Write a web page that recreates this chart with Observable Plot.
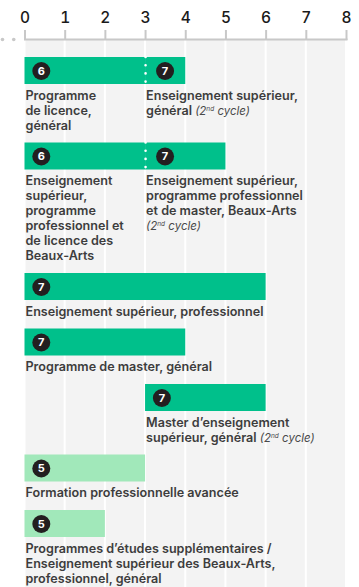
<!DOCTYPE html>
<html>
<head>
<meta charset="utf-8">
<script src="https://cdn.jsdelivr.net/npm/d3@7"></script>
<script src="https://cdn.jsdelivr.net/npm/@observablehq/plot@0.6"></script>
<style>
  html, body { margin: 0; padding: 0; background: #fff; }
  #chart svg { display: block; font-family: Inter, "Noto Sans", sans-serif; }
</style>
</head>
<body>
<div id="chart"></div>
<script>
// ---- data ----
const xTicks = [0, 1, 2, 3, 4, 5, 6, 7, 8];
const leaderDots = [-0.56, -0.28];

const segRow   = [0, 0, 1, 1, 2, 3, 4, 5, 6];
const segStart = [0, 3, 0, 3, 0, 0, 3, 0, 0];
const segEnd   = [3, 4, 3, 5, 6, 4, 6, 3, 2];
const segLevel = [6, 7, 6, 7, 7, 7, 7, 5, 5];
const segLabel = [
  "Programme\nde licence,\ngénéral",
  "Enseignement supérieur,\ngénéral (2nd cycle)",
  "Enseignement\nsupérieur,\nprogramme\nprofessionnel et\nde licence des\nBeaux-Arts",
  "Enseignement supérieur,\nprogramme professionnel\net de master, Beaux-Arts\n(2nd cycle)",
  "Enseignement supérieur, professionnel",
  "Programme de master, général",
  "Master d’enseignement\nsupérieur, général (2nd cycle)",
  "Formation professionnelle avancée",
  "Programmes d’études supplémentaires /\nEnseignement supérieur des Beaux-Arts,\nprofessionnel, général"
];
const levelColors = ["#a1e8ba", "#00c08b", "#00c08b"];
const levels = [5, 6, 7];

// ---- layout (in line units) ----
const W = 359, H = 587, MT = 39;
const UNIT = 15;              // px per line unit
const TOP0 = 1.2, BAR = 1.8, GAP = 0.9, PAD = 0.3;
const FS = 12.6;

const segs = segRow.map((r, i) => ({
  row: r, start: segStart[i], end: segEnd[i], level: segLevel[i], label: segLabel[i],
  lines: segLabel[i].split("\n").length
}));
const nRows = d3.max(segRow) + 1;
const rowLines = d3.range(nRows).map(r => d3.max(segs.filter(s => s.row === r), s => s.lines));
const tops = [];
{ let t = TOP0; for (let r = 0; r < nRows; r++) { tops.push(t); t += BAR + rowLines[r] + GAP; } }
segs.forEach(s => {
  s.y1 = tops[s.row]; s.y2 = tops[s.row] + BAR; s.ym = tops[s.row] + BAR / 2;
  s.yl = tops[s.row] + BAR + PAD;
  s.after = segs.some(o => o.row === s.row && o.start < s.start);
});
const first = segs.filter(s => !s.after);
const after = segs.filter(s => s.after);

const chart = Plot.plot({
  width: W, height: H,
  marginTop: MT, marginBottom: 0, marginLeft: 24.5, marginRight: 13,
  x: {domain: [0, 8], axis: null},
  y: {domain: [0, (H - MT) / UNIT], range: [MT, H], axis: null},
  color: {domain: levels, range: levelColors},
  style: {fontFamily: "Inter, 'Noto Sans', sans-serif", overflow: "visible"},
  marks: [
    Plot.rect(d3.range(8), {x1: d => d, x2: d => d + 1, fill: "#f3f3f3", insetLeft: 1, insetRight: 1}),
    Plot.axisX(xTicks, {anchor: "top", tickSize: 10, tickFormat: () => "", color: "#c8c8c8", strokeWidth: 2}),
    Plot.axisX(xTicks, {anchor: "top", tickSize: 0, tickPadding: 17, fontSize: 15.5, fontWeight: 500, color: "#1a1a1a"}),
    Plot.frame({anchor: "top", stroke: "#c8c8c8", strokeWidth: 2}),
    Plot.dot(leaderDots, {x: d => d, frameAnchor: "top", r: 1.8, fill: "#c8c8c8"}),
    Plot.rect(segs, {x1: "start", x2: "end", y1: "y1", y2: "y2", fill: "level"}),
    Plot.ruleX(after, {x: "start", y1: "y1", y2: "y2", stroke: "white", strokeWidth: 2.6, strokeDasharray: "0 8.2", strokeLinecap: "round"}),
    Plot.dot(first, {x: "start", y: "ym", dx: 16.3, r: 9, fill: "#231f20"}),
    Plot.dot(after, {x: "start", y: "ym", dx: 19.5, r: 9, fill: "#231f20"}),
    Plot.text(first, {x: "start", y: "ym", dx: 16.3, text: d => String(d.level), fill: "white", fontSize: 11, fontWeight: 700}),
    Plot.text(after, {x: "start", y: "ym", dx: 19.5, text: d => String(d.level), fill: "white", fontSize: 11, fontWeight: 700}),
    Plot.text(segs, {x: "start", y: "yl", dx: 0.5, text: "label", textAnchor: "start", lineAnchor: "top",
      lineHeight: UNIT / FS, fontSize: FS, fontWeight: 600, fill: "#3d3d3d"})
  ]
});

// style "(2nd cycle)" as italic with superscript
const NS = "http://www.w3.org/2000/svg";
function styleCycle(node) {
  const t = node.textContent; const i = t.indexOf("(2nd cycle)");
  if (i < 0) return;
  const rest = t.slice(i + "(2nd cycle)".length);
  node.textContent = t.slice(0, i);
  const add = (s, attrs) => {
    const ts = document.createElementNS(NS, "tspan"); ts.textContent = s;
    for (const k in attrs) ts.setAttribute(k, attrs[k]);
    node.appendChild(ts);
  };
  const it = {"font-style": "italic", "font-weight": "400", "fill": "#4a4a4a", "font-size": "11.5"};
  add("(2", it);
  add("nd", {...it, "font-size": "6.5", "dy": "-4"});
  add(" cycle)", {...it, "dy": "4"});
  if (rest) add(rest, {});
}
d3.select(chart).selectAll("text").each(function() {
  const tspans = this.querySelectorAll("tspan");
  if (tspans.length) tspans.forEach(styleCycle); else styleCycle(this);
});

document.getElementById("chart").appendChild(chart);
</script>
</body>
</html>
